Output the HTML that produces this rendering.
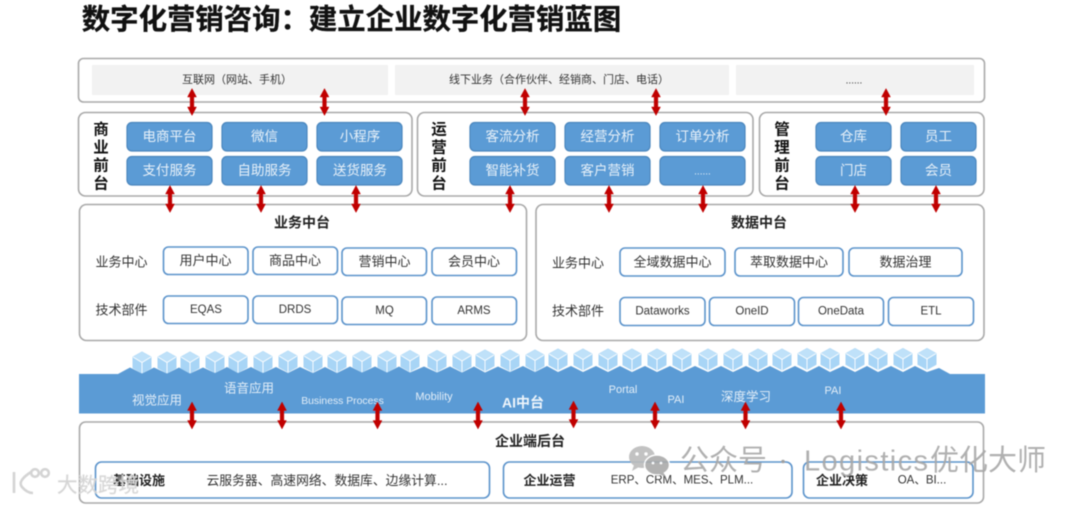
<!DOCTYPE html>
<html lang="zh"><head><meta charset="utf-8"><title>数字化营销蓝图</title>
<style>
html,body{margin:0;padding:0;background:#fff;width:1080px;height:505px;overflow:hidden}
svg{display:block;filter:blur(.45px)}
text{font-family:"Liberation Sans","Noto Sans CJK SC",sans-serif;text-anchor:middle;dominant-baseline:central}
.o{fill:#fff;stroke:#a9a9a9;stroke-width:1.6}
.g{fill:#f2f2f2}
.b{fill:#5b9bd5;stroke:#4a86bd;stroke-width:1.2}
.c{fill:#fff;stroke:#5b93cb;stroke-width:1.6}
.t1{font-size:11px;fill:#333}
.w{font-size:13.5px;fill:#e8f1f9}
.v{font-size:15.5px;font-weight:700;fill:#111}
.h{font-size:14px;font-weight:700;fill:#222}
.s{font-size:13px;fill:#333}
.e{font-size:11.5px;fill:#333}
.l{font-size:12.5px;fill:#e3eef8}
.k{font-size:13px;font-weight:700;fill:#222}
.d{font-size:12.8px;fill:#333}
.m{font-size:29px;fill:#a8a8a8;text-anchor:start;opacity:.9}
</style></head><body>
<svg width="1080" height="505" viewBox="0 0 1080 505" xmlns="http://www.w3.org/2000/svg">
<defs>
<g id="a"><path d="M0 0l4.500 8.500h-2.600v10h2.600L0 27l-4.500-8.500h2.600v-10h-2.600z" fill="#c00000" stroke="#c00000" stroke-width=".4"/></g>
<g id="q"><path d="M0-10.500L9-5.500V5.500L0 10.500-9 5.500V-5.500z" fill="#a8d5f6" stroke="#a8d5f6" stroke-width="1" stroke-linejoin="round"/><path d="M0 0L9-5.500 0-10.500-9-5.500z" fill="#bfe1f9"/><path d="M0 0V10.500M0 0L9-5.500M0 0L-9-5.500" stroke="#fff" stroke-width=".9" fill="none"/></g>
</defs>
<text x="351.500" y="20" style="font-size:28.400px;font-weight:700;fill:#111;stroke:#111;stroke-width:.3">数字化营销咨询：建立企业数字化营销蓝图</text>

<rect class="o" x="78.500" y="58.500" width="906" height="43.500" rx="5"/>
<rect class="g" x="92" y="65" width="296" height="30"/>
<rect class="g" x="395" y="65" width="334" height="30"/>
<rect class="g" x="736" y="65" width="238" height="30"/>
<text class="t1" x="237" y="80">互联网（网站、手机）</text>
<text class="t1" x="559" y="80">线下业务（合作伙伴、经销商、门店、电话）</text>
<text class="t1" x="854" y="81" style="font-size:10px">......</text>

<rect class="o" x="78.500" y="112.500" width="333.500" height="83.500" rx="7"/>
<rect class="o" x="417.500" y="112.500" width="335.500" height="83.500" rx="7"/>
<rect class="o" x="759.500" y="112.500" width="224.500" height="83.500" rx="7"/>
<text class="v" x="101" y="130">商</text><text class="v" x="101" y="148">业</text><text class="v" x="101" y="166">前</text><text class="v" x="101" y="184">台</text>
<text class="v" x="439" y="130">运</text><text class="v" x="439" y="148">营</text><text class="v" x="439" y="166">前</text><text class="v" x="439" y="184">台</text>
<text class="v" x="782" y="130">管</text><text class="v" x="782" y="148">理</text><text class="v" x="782" y="166">前</text><text class="v" x="782" y="184">台</text>
<rect class="b" x="127" y="122.500" width="85" height="28.500" rx="5"/><rect class="b" x="222" y="122.500" width="85" height="28.500" rx="5"/><rect class="b" x="317" y="122.500" width="85" height="28.500" rx="5"/>
<rect class="b" x="127" y="156.500" width="85" height="28.500" rx="5"/><rect class="b" x="222" y="156.500" width="85" height="28.500" rx="5"/><rect class="b" x="317" y="156.500" width="85" height="28.500" rx="5"/>
<rect class="b" x="470" y="122.500" width="85" height="28.500" rx="5"/><rect class="b" x="565" y="122.500" width="85" height="28.500" rx="5"/><rect class="b" x="660" y="122.500" width="85" height="28.500" rx="5"/>
<rect class="b" x="470" y="156.500" width="85" height="28.500" rx="5"/><rect class="b" x="565" y="156.500" width="85" height="28.500" rx="5"/><rect class="b" x="660" y="156.500" width="85" height="28.500" rx="5"/>
<rect class="b" x="816" y="122.500" width="75" height="28.500" rx="5"/><rect class="b" x="901" y="122.500" width="75" height="28.500" rx="5"/>
<rect class="b" x="816" y="156.500" width="75" height="28.500" rx="5"/><rect class="b" x="901" y="156.500" width="75" height="28.500" rx="5"/>
<text class="w" x="169.500" y="136.500">电商平台</text><text class="w" x="264.500" y="136.500">微信</text><text class="w" x="360" y="136.500">小程序</text>
<text class="w" x="169.500" y="170.500">支付服务</text><text class="w" x="264.500" y="170.500">自助服务</text><text class="w" x="360" y="170.500">送货服务</text>
<text class="w" x="512.500" y="136.500">客流分析</text><text class="w" x="607.500" y="136.500">经营分析</text><text class="w" x="702.500" y="136.500">订单分析</text>
<text class="w" x="512.500" y="170.500">智能补货</text><text class="w" x="607.500" y="170.500">客户营销</text><text class="w" x="702.500" y="172" style="font-size:10px">......</text>
<text class="w" x="853.500" y="136.500">仓库</text><text class="w" x="938.500" y="136.500">员工</text>
<text class="w" x="853.500" y="170.500">门店</text><text class="w" x="938.500" y="170.500">会员</text>

<rect class="o" x="79.500" y="204.500" width="447" height="136" rx="7"/>
<rect class="o" x="536" y="204.500" width="448" height="136" rx="7"/>
<text class="h" x="302" y="222.500">业务中台</text>
<text class="h" x="759" y="222.500">数据中台</text>
<text class="s" x="121.500" y="262">业务中心</text>
<text class="s" x="121.500" y="310">技术部件</text>
<text class="s" x="578" y="263">业务中心</text>
<text class="s" x="578" y="311">技术部件</text>
<rect class="c" x="163.500" y="247" width="84.500" height="27.500" rx="5"/><rect class="c" x="253" y="247" width="84.500" height="27.500" rx="5"/><rect class="c" x="342" y="248" width="84.500" height="27.500" rx="5"/><rect class="c" x="432" y="248" width="84.500" height="27.500" rx="5"/>
<rect class="c" x="163.500" y="296" width="84.500" height="27.500" rx="5"/><rect class="c" x="253" y="296" width="84.500" height="27.500" rx="5"/><rect class="c" x="342" y="297" width="84.500" height="27.500" rx="5"/><rect class="c" x="432" y="297" width="84.500" height="27.500" rx="5"/>
<text class="s" x="205.500" y="260.500">用户中心</text><text class="s" x="295" y="260.500">商品中心</text><text class="s" x="384.500" y="261.500">营销中心</text><text class="s" x="474" y="261.500">会员中心</text>
<text class="e" x="206" y="310">EQAS</text><text class="e" x="295" y="310">DRDS</text><text class="e" x="384.500" y="311">MQ</text><text class="e" x="474" y="311">ARMS</text>
<rect class="c" x="620" y="248" width="105" height="28" rx="5"/><rect class="c" x="735" y="248" width="108" height="28" rx="5"/><rect class="c" x="849" y="248" width="113" height="28" rx="5"/>
<rect class="c" x="620" y="297.500" width="85" height="28" rx="5"/><rect class="c" x="709.500" y="297.500" width="85" height="28" rx="5"/><rect class="c" x="798.500" y="297.500" width="85" height="28" rx="5"/><rect class="c" x="888.500" y="297.500" width="85" height="28" rx="5"/>
<text class="s" x="672.500" y="262">全域数据中心</text><text class="s" x="789" y="262">萃取数据中心</text><text class="s" x="905.500" y="262">数据治理</text>
<text class="e" x="662.500" y="311.500">Dataworks</text><text class="e" x="752" y="311.500">OneID</text><text class="e" x="841" y="311.500">OneData</text><text class="e" x="931" y="311.500">ETL</text>

<path d="M79 374H118L130 367.500L142 373.500L154 367.500L167 373.500L179 367.500L190 373.500L203 367.500L215 373L227 367L238 373L251 367L263 373L276 367L288 373L300 367L313 373L325 367L337 373L350 366.500L362 372.500L375 366.500L387 372.500L399 366.500L410 372.500L424 366.500L437 372.500L450 366.500L462 372.500L474 366.500L485 372.500L498 366.500L510 372L523 366L535 372L547 366L558 372L571 366L583 372L596 366L608 372L620 366L632 372L645 366L657 372L670 366L682 372L695 366L708 372L721 366L733 372L746 366L758 372L770 366L782 372L795 366L807 372L819 366L830 372L843 366L855 372L867 366L878 372L891 366L903 372L915 366L927 372L939 368L950 374H985V413.500H79Z" fill="#5b9bd5"/>
<use href="#q" x="142" y="362.500"/><use href="#q" x="167" y="362.500"/><use href="#q" x="190" y="362.500"/><use href="#q" x="215" y="362"/><use href="#q" x="238" y="362"/><use href="#q" x="263" y="362"/><use href="#q" x="288" y="361.500"/><use href="#q" x="313" y="361.500"/><use href="#q" x="337" y="361.500"/><use href="#q" x="362" y="361.500"/><use href="#q" x="387" y="361.500"/><use href="#q" x="410" y="361"/><use href="#q" x="437" y="361"/><use href="#q" x="462" y="361"/><use href="#q" x="485" y="360.500"/><use href="#q" x="510" y="360.500"/><use href="#q" x="535" y="360.500"/><use href="#q" x="558" y="359.500"/><use href="#q" x="583" y="359.500"/><use href="#q" x="608" y="359.500"/><use href="#q" x="632" y="359.500"/><use href="#q" x="657" y="359.500"/><use href="#q" x="682" y="359.500"/><use href="#q" x="708" y="359.500"/><use href="#q" x="733" y="359.500"/><use href="#q" x="758" y="359.500"/><use href="#q" x="782" y="359.500"/><use href="#q" x="807" y="359"/><use href="#q" x="830" y="359"/><use href="#q" x="855" y="359"/><use href="#q" x="878" y="359"/><use href="#q" x="903" y="359"/><use href="#q" x="927" y="359"/>
<text class="l" x="157" y="400.500">视觉应用</text>
<text class="l" x="249" y="388.500">语音应用</text>
<text class="l" x="342.500" y="401.500" style="font-size:10.400px">Business Process</text>
<text class="l" x="434" y="397" style="font-size:11px">Mobility</text>
<text x="523" y="402.500" style="font-size:14px;font-weight:700;fill:#eef5fb">AI中台</text>
<text class="l" x="623" y="390" style="font-size:11px">Portal</text>
<text class="l" x="676" y="400" style="font-size:11px">PAI</text>
<text class="l" x="746" y="397">深度学习</text>
<text class="l" x="833" y="391" style="font-size:11px">PAI</text>

<rect class="o" x="79.500" y="422" width="904" height="81" rx="6"/>
<text class="h" x="530" y="441">企业端后台</text>
<rect class="c" x="95.500" y="462" width="394" height="36" rx="6"/><rect class="c" x="503.500" y="462" width="288.500" height="36" rx="6"/><rect class="c" x="803.500" y="462" width="169.500" height="36" rx="6"/>
<text class="k" x="139" y="480.500">基础设施</text>
<text class="d" x="327" y="480.500">云服务器、高速网络、数据库、边缘计算...</text>
<text class="k" x="549.500" y="480.500">企业运营</text>
<text class="e" x="682" y="480.500">ERP、CRM、MES、PLM...</text>
<text class="k" x="842" y="480.500">企业决策</text>
<text class="e" x="922" y="480.500">OA、BI...</text>

<use href="#a" x="192" y="88.500"/><use href="#a" x="324.500" y="88.500"/><use href="#a" x="525" y="88.500"/><use href="#a" x="656" y="88.500"/><use href="#a" x="886" y="88.500"/>
<use href="#a" x="170" y="185.500"/><use href="#a" x="261" y="185.500"/><use href="#a" x="356" y="185.500"/><use href="#a" x="510" y="185.500"/><use href="#a" x="609" y="185.500"/><use href="#a" x="703" y="185.500"/><use href="#a" x="855" y="185.500"/><use href="#a" x="936" y="185.500"/>
<use href="#a" x="192" y="402"/><use href="#a" x="282" y="402"/><use href="#a" x="377.500" y="402"/><use href="#a" x="478" y="402"/><use href="#a" x="573.500" y="401"/><use href="#a" x="655" y="402"/><use href="#a" x="745.500" y="402"/><use href="#a" x="841" y="402"/>

<g opacity=".9">
<ellipse cx="642" cy="457" rx="13" ry="11" fill="#bcbcbc"/><path d="M634 465l-2 6 7-4z" fill="#bcbcbc"/>
<ellipse cx="657" cy="465" rx="12.500" ry="10" fill="#aaa" stroke="#fff" stroke-width="1.500"/><path d="M663 472l3 5-7-3z" fill="#aaa"/>
<circle cx="637" cy="454" r="1.700" fill="#fff"/><circle cx="646" cy="454" r="1.700" fill="#fff"/><circle cx="653" cy="463" r="1.400" fill="#fff"/><circle cx="661" cy="463" r="1.400" fill="#fff"/>
</g>
<text class="m" x="680" y="461">公众号</text>
<circle cx="783" cy="461.500" r="1.800" fill="#a0a0a0"/>
<text class="m" x="804" y="461.500" style="letter-spacing:1.400px">Logistics</text>
<text class="m" x="930" y="461">优化大师</text>
<g fill="none" stroke="#d4d4d4" stroke-width="2.600"><path d="M14 472v21M31 472q-14 9-9 15t11 6"/><circle cx="35" cy="473" r="3.800"/><circle cx="45" cy="473" r="3.800"/></g>
<text x="98" y="485.500" style="font-size:20.500px;fill:#cfcfcf;opacity:.9;stroke:#e0e0e0;stroke-width:.5">大数跨境</text>
</svg>
</body></html>
